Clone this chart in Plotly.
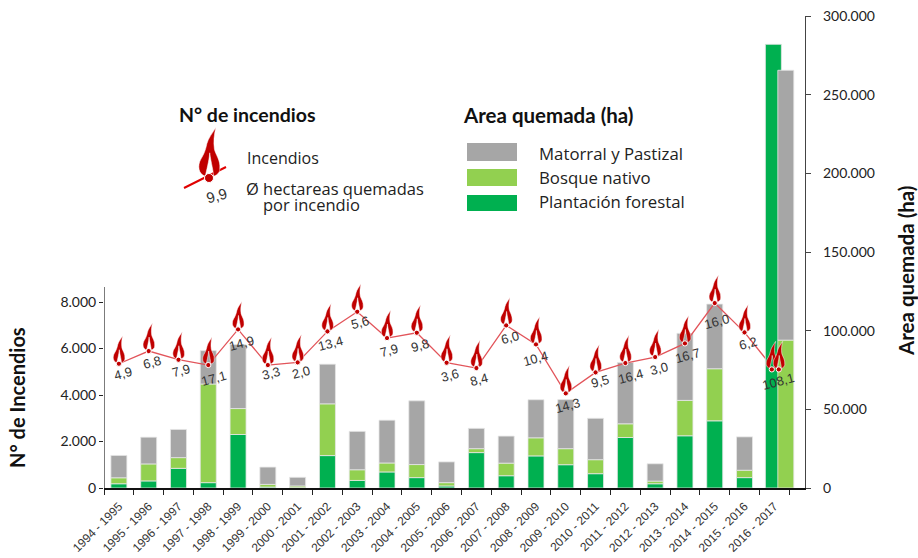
import plotly.graph_objects as go

seasons = ["1994 - 1995","1995 - 1996","1996 - 1997","1997 - 1998","1998 - 1999","1999 - 2000","2000 - 2001","2001 - 2002","2002 - 2003","2003 - 2004","2004 - 2005","2005 - 2006","2006 - 2007","2007 - 2008","2008 - 2009","2009 - 2010","2010 - 2011","2011 - 2012","2012 - 2013","2013 - 2014","2014 - 2015","2015 - 2016","2016 - 2017"]
plantacion = [2700,4500,12500,3400,34000,600,200,20600,4800,10200,6600,1300,22500,7800,20400,14800,9100,32100,2700,33200,42700,6600,282000]
nativo = [3800,10800,6800,62700,16500,1700,1100,32900,6800,5700,8300,2100,2500,8000,11500,10200,8900,8700,1700,22500,33100,4700,94000]
matorral = [14200,17000,17900,21200,40700,11000,5500,25200,24400,27200,40500,13200,12900,17200,24200,31200,26300,39000,11000,42600,41100,21200,171500]
incendios = [5345,5890,5517,5288,6821,5288,5402,6735,7580,6449,6678,5388,5159,6993,6176,4070,4972,5374,5632,6219,7953,6692,5100]
ha_por_incendio = ["4,9","6,8","7,9","17,1","14,9","3,3","2,0","13,4","5,6","7,9","9,8","3,6","8,4","6,0","10,4","14,3","9,5","16,4","3,0","16,7","16,0","6,2","108,1"]
label_dx = [4,3,3,5,3,3,3,3,3,2,3,3,3,4,0,2,4,5,4,3,2,3,4]
label_dy = [-10,-11,-11,-13,-14,-8,-10,-12,-11,-12,-13,-13,-11,-12,-14,-12,-9,-13,-11,-12,-18,-11,-12]
left_ticks = [0,2000,4000,6000,8000]
left_labels = ["0","2.000","4.000","6.000","8.000"]
right_ticks = [0,50000,100000,150000,200000,250000,300000]
right_labels = ["0","50.000","100.000","150.000","200.000","250.000","300.000"]

GRAY, LIGHT, GREEN, RED, DARK = "#A6A6A6", "#92D050", "#00B050", "#E2545A", "#C00000"
L, T, W, H = 104, 16, 701, 472
SANS = "Open Sans"
n = len(seasons)
last = n - 1
CAT_PX = 29.8
bw = 16 / CAT_PX

def px(x): return (x - L) / W
def py(y): return (T + H - y) / H

edge = dict(color="#E6E6E6", width=0.8)
off_main = [-bw / 2] * n
off_plant = off_main[:]; off_plant[last] = -0.30
off_stack = off_main[:]; off_stack[last] = 0.117
base_native = [0 if i == last else plantacion[i] for i in range(n)]
base_scrub = [base_native[i] + nativo[i] for i in range(n)]

fig = go.Figure()
# lowest layer: the end of the line runs behind the last bars
fig.add_trace(go.Scatter(x=seasons[-2:], y=incendios[-2:], mode="lines", yaxis="y",
                         line=dict(color=RED, width=1.3), showlegend=False))
fig.add_trace(go.Bar(x=seasons, y=plantacion, yaxis="y2", name="Plantación forestal", width=[bw]*n, offset=off_plant,
                     marker=dict(color=GREEN, line=edge), showlegend=False))
fig.add_trace(go.Bar(x=seasons, y=nativo, base=base_native, yaxis="y2", name="Bosque nativo", width=[bw]*n, offset=off_stack,
                     marker=dict(color=LIGHT, line=edge), showlegend=False))
fig.add_trace(go.Bar(x=seasons, y=matorral, base=base_scrub, yaxis="y2", name="Matorral y Pastizal", width=[bw]*n, offset=off_stack,
                     marker=dict(color=GRAY, line=edge), showlegend=False))
fig.add_trace(go.Scatter(x=seasons[:-1], y=incendios[:-1], mode="lines", yaxis="y3", name="Incendios",
                         line=dict(color=RED, width=1.3), showlegend=False))

FLAME = [("M",-2,1),("C",-6,2,-6.5,7,-4.5,10.5),("C",-3,13,-2,15,-1.2,19),("C",-0.5,22,2,25,3.8,28),
         ("C",2.8,24,2.4,20,3,16),("C",3.6,13,6.5,10,6,5),("C",6,3,4.5,1.5,2.5,1),("C",2.5,4,1.2,8,0.4,14),("C",0,9,-1.5,4,-2,1),("Z",)]

def flame_path(s=1.0, dx=0.0):
    out = []
    for seg in FLAME:
        vals = seg[1:]
        pts = [(vals[i] * s + dx if i % 2 == 0 else vals[i] * s) for i in range(len(vals))]
        out.append(seg[0] + " ".join(f"{v:.2f}" if j % 2 else f"{v:.2f}," for j, v in enumerate(pts)).rstrip(","))
    return " ".join(out)

def flame_shapes(x, y, xref, yref, s=1.0, dx=0.0, r=2.6, ring="white"):
    common = dict(xref=xref, yref=yref, xsizemode="pixel", ysizemode="pixel", xanchor=x, yanchor=y, layer="above")
    return [
        dict(type="path", path=flame_path(s, dx), fillcolor=DARK, line=dict(color="white", width=0.5), **common),
        dict(type="circle", x0=dx - r, x1=dx + r, y0=-r, y1=r, fillcolor=DARK, line=dict(color=ring, width=1), **common),
    ]

shapes = []
for i, v in enumerate(incendios):
    if i == last:
        shapes += flame_shapes(i, v, "x", "y3", dx=-2.5)
        shapes += flame_shapes(i, v, "x", "y3", dx=4.5)
    else:
        shapes += flame_shapes(i, v, "x", "y3")

# partial left axis line
shapes.append(dict(type="line", xref="x", yref="y", x0=-0.5, x1=-0.5, y0=0, y1=8640, line=dict(color="#222222", width=1.2)))

# legend swatches
for color, top, bottom in [(GRAY,143,161),(LIGHT,169,186),(GREEN,195,211)]:
    shapes.append(dict(type="rect", xref="paper", yref="paper", x0=px(467), x1=px(517), y0=py(bottom), y1=py(top),
                       fillcolor=color, line=dict(width=0), layer="above"))
shapes.append(dict(type="line", xref="paper", yref="paper", x0=px(184), x1=px(226), y0=py(188), y1=py(167),
                   line=dict(color="#E00000", width=2), layer="above"))
shapes += flame_shapes(px(209), py(178), "paper", "paper", s=1.8, r=4.5)

annotations = []
for i, (t, dx, dy) in enumerate(zip(ha_por_incendio, label_dx, label_dy)):
    annotations.append(dict(x=i, y=incendios[i], xref="x", yref="y3", text=t, showarrow=False, textangle=-15,
                            xshift=dx, yshift=dy, font=dict(family="Liberation Sans", size=13, color="#333333")))

def label(x, y, text, size=15, bold=False, anchor="left", family=SANS, color="#222222", angle=0):
    annotations.append(dict(x=px(x), y=py(y), xref="paper", yref="paper", text=f"<b>{text}</b>" if bold else text,
                            showarrow=False, xanchor=anchor, yanchor="middle", textangle=angle,
                            font=dict(family=family, size=size, color=color)))

label(177, 114, "N° de incendios", 19.5, True, family="Lato", color="#111111")
label(461, 115, "Area quemada (ha)", 20.5, True, family="Lato", color="#111111")
label(245, 158, "Incendios", 16)
label(244, 188, "Ø hectareas quemadas", 16.5)
label(261, 204, "por incendio", 16.5)
label(537, 153, "Matorral y Pastizal", 16.8)
label(537, 177, "Bosque nativo", 16.8)
label(537, 202, "Plantación forestal", 16.8)
label(216, 195, "9,9", 15, anchor="center", family="Liberation Sans", color="#333333", angle=-15)
label(17, 398, "N° de Incendios", 20, True, anchor="center", family="Lato", color="#111111", angle=-90)
label(906, 270, "Area quemada (ha)", 20.5, True, anchor="center", family="Lato", color="#111111", angle=-90)

fig.update_layout(
    width=918, height=558, autosize=False, margin=dict(l=L, r=918 - L - W, t=T, b=558 - T - H),
    paper_bgcolor="white", plot_bgcolor="white", barmode="overlay", showlegend=False,
    font=dict(family=SANS, color="#222222"), shapes=shapes, annotations=annotations,
    xaxis=dict(type="category", categoryorder="array", categoryarray=seasons, range=[-0.5, 23.03], tickson="boundaries", automargin=False,
               ticks="outside", ticklen=5, tickcolor="#222222", tickangle=-45, showgrid=False, zeroline=False, ticklabelstandoff=5,
               showline=True, linecolor="#111111", linewidth=1.5, tickfont=dict(family="Liberation Sans", size=12, color="#333333")),
    yaxis=dict(range=[0, 20301], tickvals=left_ticks, ticktext=left_labels, ticks="outside", ticklen=4, tickcolor="#222222", automargin=False,
               showgrid=False, zeroline=False, showline=False, tickfont=dict(family="Lato", size=14, color="#222222")),
    yaxis2=dict(range=[0, 300000], overlaying="y", side="right", tickvals=right_ticks, ticktext=right_labels, ticks="outside", automargin=False,
                ticklen=5, tickcolor="#444444", showgrid=False, zeroline=False, showline=True, linecolor="#444444", linewidth=1.2,
                tickfont=dict(family="Lato", size=14, color="#222222"), ticklabelstandoff=9),
    yaxis3=dict(range=[0, 20301], overlaying="y", visible=False, automargin=False),
)
fig.write_html("out.html", post_script="document.body.style.margin='0';", config={"displayModeBar": False})
